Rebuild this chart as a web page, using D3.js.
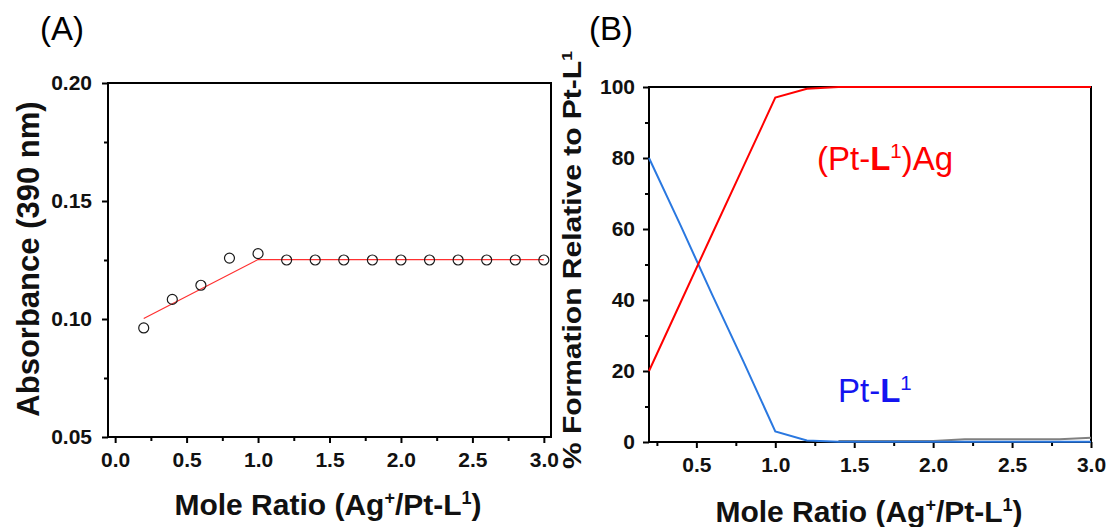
<!DOCTYPE html>
<html>
<head>
<meta charset="utf-8">
<script src="https://cdn.jsdelivr.net/npm/d3@7"></script>
<style>
  html, body { margin: 0; padding: 0; background: #fff; }
  svg { display: block; font-family: Arial, "Liberation Sans", sans-serif; }
</style>
</head>
<body>
<div id="chart"></div>
<script>
// panel A: absorbance titration
const ratioA = [0.2, 0.4, 0.6, 0.8, 1.0, 1.2, 1.4, 1.6, 1.8, 2.0, 2.2, 2.4, 2.6, 2.8, 3.0];
const absorbance = [0.0962, 0.1083, 0.1143, 0.1258, 0.1277, 0.125, 0.125, 0.125, 0.125, 0.125, 0.125, 0.125, 0.125, 0.125, 0.125];
const fitRatio = [0.2, 1.0, 3.0];
const fitAbs = [0.1002, 0.1252, 0.1252];
const ticksAx = [0.0, 0.5, 1.0, 1.5, 2.0, 2.5, 3.0];
const ticksAy = [0.05, 0.10, 0.15, 0.20];

// panel B: species distribution
const ratioB = [0.2, 0.4, 0.6, 0.8, 1.0, 1.2, 1.4, 1.6, 1.8, 2.0, 2.2, 2.4, 2.6, 2.8, 3.0];
const complexPct = [20, 39.3, 58.6, 77.8, 97, 99.5, 100, 100, 100, 100, 100, 100, 100, 100, 100];
const freePct = [80, 61, 41.5, 22.5, 3, 0.4, 0.1, 0.1, 0.1, 0.1, 0.1, 0.1, 0.1, 0.1, 0.1];
const otherRatio = [1.4, 1.6, 1.8, 2.0, 2.2, 2.4, 2.6, 2.8, 3.0];
const otherPct = [0.3, 0.3, 0.3, 0.3, 0.75, 0.75, 0.75, 0.75, 1.2];
const ticksBx = [0.5, 1.0, 1.5, 2.0, 2.5, 3.0];
const ticksBy = [0, 20, 40, 60, 80, 100];

const width = 1110;
const height = 527;

const svg = d3.select("#chart").append("svg")
  .attr("width", width)
  .attr("height", height)
  .attr("viewBox", `0 0 ${width} ${height}`);

// text with optional superscripts / bold runs
function richText(textSel, parts, size, supScale = 0.6) {
  let raised = 0;
  parts.forEach((part) => {
    const span = textSel.append("tspan").text(part.t);
    if (part.sup) {
      span.attr("font-size", size * supScale).attr("dy", -size * 0.36 - raised);
      raised = size * 0.36;
    } else if (raised) {
      span.attr("dy", raised);
      raised = 0;
    }
    if (part.bold) span.attr("font-weight", "bold");
  });
}

function drawFrame(g, box) {
  g.append("rect")
    .attr("x", box.left)
    .attr("y", box.top)
    .attr("width", box.right - box.left)
    .attr("height", box.bottom - box.top)
    .attr("fill", "none")
    .attr("stroke", "#000")
    .attr("stroke-width", 2);
}

function drawAxes(g, x, y, box, opts) {
  const xAxis = g.append("g")
    .attr("transform", `translate(0,${box.bottom})`)
    .call(d3.axisBottom(x).tickValues(opts.xTicks).tickFormat(d3.format(".1f")).tickSize(6).tickPadding(9));
  g.append("g")
    .attr("transform", `translate(0,${box.bottom})`)
    .call(d3.axisBottom(x).tickValues(opts.xMinor).tickFormat("").tickSize(4));

  const yAxis = g.append("g")
    .attr("transform", `translate(${box.left},0)`)
    .call(d3.axisLeft(y).tickValues(opts.yTicks).tickFormat(opts.yFormat).tickSize(6).tickPadding(opts.yPad));
  g.append("g")
    .attr("transform", `translate(${box.left},0)`)
    .call(d3.axisLeft(y).tickValues(opts.yMinor).tickFormat("").tickSize(4));

  g.selectAll(".domain").remove();
  g.selectAll(".tick line").attr("stroke", "#000").attr("stroke-width", 2);
  [xAxis, yAxis].forEach((a) => a.selectAll("text")
    .attr("font-size", 21)
    .attr("font-weight", "bold")
    .attr("fill", "#111")
    .attr("font-family", "Arial, 'Liberation Sans', sans-serif"));
}

const moleTitle = [
  { t: "Mole Ratio (Ag" }, { t: "+", sup: true }, { t: "/Pt-L" }, { t: "1", sup: true }, { t: ")" }
];

// ---------- panel A ----------
const boxA = { left: 108, top: 83, right: 551, bottom: 437 };
const xA = d3.scaleLinear().domain([-0.05, 3.05]).range([boxA.left, boxA.right]);
const yA = d3.scaleLinear().domain([0.05, 0.20]).range([boxA.bottom, boxA.top]);
const gA = svg.append("g");

drawFrame(gA, boxA);
drawAxes(gA, xA, yA, boxA, {
  xTicks: ticksAx,
  xMinor: [0.25, 0.75, 1.25, 1.75, 2.25, 2.75],
  yTicks: ticksAy,
  yMinor: [0.075, 0.125, 0.175],
  yFormat: d3.format(".2f"),
  yPad: 10
});

gA.append("path")
  .datum(d3.zip(fitRatio, fitAbs))
  .attr("fill", "none")
  .attr("stroke", "#ff3030")
  .attr("stroke-width", 1.2)
  .attr("d", d3.line().x((d) => xA(d[0])).y((d) => yA(d[1])));

gA.selectAll("circle.pt")
  .data(d3.zip(ratioA, absorbance))
  .join("circle")
  .attr("class", "pt")
  .attr("cx", (d) => xA(d[0]))
  .attr("cy", (d) => yA(d[1]))
  .attr("r", 5)
  .attr("fill", "none")
  .attr("stroke", "#1a1a1a")
  .attr("stroke-width", 1.2);

gA.append("text")
  .attr("x", 40).attr("y", 40)
  .attr("font-size", 33)
  .text("(A)");

gA.append("text")
  .attr("transform", "translate(39,259) rotate(-90)")
  .attr("text-anchor", "middle")
  .attr("font-size", 31)
  .attr("font-weight", "bold")
  .attr("fill", "#111")
  .text("Absorbance (390 nm)");

richText(gA.append("text")
  .attr("x", 328).attr("y", 515)
  .attr("text-anchor", "middle")
  .attr("font-size", 30)
  .attr("font-weight", "bold")
  .attr("fill", "#111"), moleTitle, 30);

// ---------- panel B ----------
const boxB = { left: 649, top: 87, right: 1091, bottom: 442 };
const xB = d3.scaleLinear().domain([0.2, 3.0]).range([boxB.left, boxB.right]);
const yB = d3.scaleLinear().domain([0, 100]).range([boxB.bottom, boxB.top]);
const gB = svg.append("g");

drawFrame(gB, boxB);
drawAxes(gB, xB, yB, boxB, {
  xTicks: ticksBx,
  xMinor: [0.25, 0.75, 1.25, 1.75, 2.25, 2.75],
  yTicks: ticksBy,
  yMinor: [10, 30, 50, 70, 90],
  yFormat: d3.format("d"),
  yPad: 8
});

const lineB = d3.line().x((d) => xB(d[0])).y((d) => yB(d[1]));

gB.append("path")
  .datum(d3.zip(otherRatio, otherPct))
  .attr("fill", "none")
  .attr("stroke", "#808080")
  .attr("stroke-width", 2)
  .attr("d", lineB);

gB.append("path")
  .datum(d3.zip(ratioB, freePct))
  .attr("fill", "none")
  .attr("stroke", "#2a78e0")
  .attr("stroke-width", 2)
  .attr("d", lineB);

gB.append("path")
  .datum(d3.zip(ratioB, complexPct))
  .attr("fill", "none")
  .attr("stroke", "#ff0000")
  .attr("stroke-width", 2)
  .attr("d", lineB);

richText(gB.append("text")
  .attr("x", 817).attr("y", 170)
  .attr("font-size", 33)
  .attr("fill", "#ff0000"),
  [{ t: "(Pt-" }, { t: "L", bold: true }, { t: "1", sup: true }, { t: ")Ag" }], 33, 0.62);

richText(gB.append("text")
  .attr("x", 838).attr("y", 402)
  .attr("font-size", 33)
  .attr("fill", "#1414f0"),
  [{ t: "Pt-" }, { t: "L", bold: true }, { t: "1", sup: true }], 33, 0.62);

gB.append("text")
  .attr("x", 589).attr("y", 40)
  .attr("font-size", 33)
  .text("(B)");

richText(gB.append("text")
  .attr("transform", "translate(581,260) rotate(-90) scale(1,0.85)")
  .attr("text-anchor", "middle")
  .attr("font-size", 30)
  .attr("font-weight", "bold")
  .attr("fill", "#111"),
  [{ t: "% Formation Relative to Pt-L" }, { t: "1", sup: true }], 30);

richText(gB.append("text")
  .attr("x", 869).attr("y", 522)
  .attr("text-anchor", "middle")
  .attr("font-size", 30)
  .attr("font-weight", "bold")
  .attr("fill", "#111"), moleTitle, 30);
</script>
</body>
</html>
